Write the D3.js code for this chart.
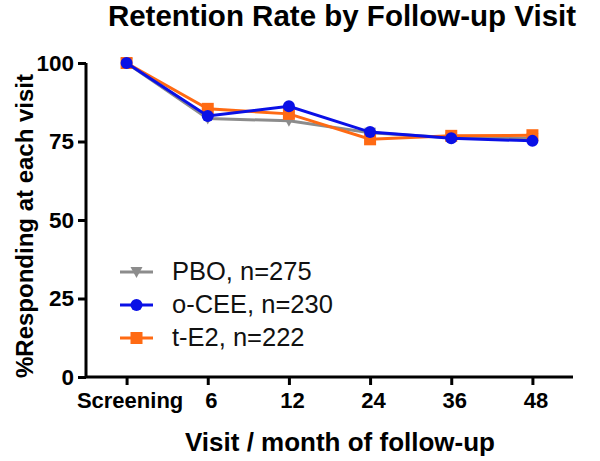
<!DOCTYPE html>
<html><head><meta charset="utf-8">
<script src="https://cdn.jsdelivr.net/npm/d3@7"></script>
<style>body{margin:0;background:#fff}svg{display:block}text{font-family:"Liberation Sans",Arial,sans-serif}</style>
</head><body><svg id="c" width="600" height="461"></svg>
<script>
const categories = ["Screening","6","12","24","36","48"];
const pbo  = [100, 82.3, 81.6, 77.8, 76.2, 76.0];
const ocee = [100, 83.1, 86.2, 78.0, 76.0, 75.2];
const te2  = [100, 85.4, 83.8, 75.7, 76.8, 77.0];
const yTicks = [0,25,50,75,100];
const seriesNames = ["PBO, n=275","o-CEE, n=230","t-E2, n=222"];

const svg = d3.select("#c");
const x = d3.scalePoint().domain(categories).range([86,573]).padding(0.5);
const y = d3.scaleLinear().domain([0,100]).range([377,63]);

svg.append("text").attr("x",342).attr("y",26).attr("text-anchor","middle")
  .attr("font-size",29.5).attr("font-weight","bold").text("Retention Rate by Follow-up Visit");

const ya = svg.append("g").attr("transform","translate(86,0)")
  .call(d3.axisLeft(y).tickValues(yTicks).tickSize(8).tickPadding(4));
const xa = svg.append("g").attr("transform","translate(0,377)")
  .call(d3.axisBottom(x).tickSize(8).tickPadding(7).tickSizeOuter(0));
[ya,xa].forEach(a=>{
  a.select(".domain").attr("stroke","#000").attr("stroke-width",3);
  a.selectAll(".tick line").attr("stroke","#000").attr("stroke-width",3);
  a.selectAll("text").attr("fill","#000").attr("font-weight","bold").attr("font-family","Liberation Sans, Arial, sans-serif");
});
ya.selectAll("text").attr("font-size",22.5);
xa.selectAll("text").attr("font-size",22).attr("dx",3);
xa.select(".domain").attr("d","M86,0H573");
ya.select(".domain").attr("d","M0,63V377");

svg.append("text").attr("x",340).attr("y",451).attr("text-anchor","middle")
  .attr("font-size",26).attr("font-weight","bold").text("Visit / month of follow-up");
svg.append("text").attr("transform","translate(33,226) rotate(-90)").attr("text-anchor","middle")
  .attr("font-size",24).attr("font-weight","bold").text("%Responding at each visit");

const series = [
  {name:seriesNames[0], vals:pbo,  color:"#8c8c8c", shape:"tri"},
  {name:seriesNames[2], vals:te2,  color:"#ff6a13", shape:"sq"},
  {name:seriesNames[1], vals:ocee, color:"#0a10e6", shape:"circ"}
];
function marker(g, shape, color, cx, cy){
  if(shape==="circ") g.append("circle").attr("cx",cx).attr("cy",cy).attr("r",6).attr("fill",color);
  else if(shape==="sq") g.append("rect").attr("x",cx-6).attr("y",cy-6).attr("width",12).attr("height",12).attr("fill",color);
  else g.append("path").attr("d",`M${cx-6},${cy-5}L${cx+6},${cy-5}L${cx},${cy+6}Z`).attr("fill",color);
}
const line = d3.line().x((d,i)=>x(categories[i])).y(d=>y(d));
series.forEach(s=>{
  const g = svg.append("g");
  g.append("path").datum(s.vals).attr("d",line).attr("fill","none").attr("stroke",s.color).attr("stroke-width",3);
  s.vals.forEach((v,i)=>marker(g,s.shape,s.color,x(categories[i]),y(v)));
});

const leg = [
  {name:seriesNames[0], color:"#8c8c8c", shape:"tri"},
  {name:seriesNames[1], color:"#0a10e6", shape:"circ"},
  {name:seriesNames[2], color:"#ff6a13", shape:"sq"}
];
leg.forEach((l,i)=>{
  const cy = 272 + i*33;
  const g = svg.append("g");
  g.append("line").attr("x1",120).attr("x2",153).attr("y1",cy).attr("y2",cy).attr("stroke",l.color).attr("stroke-width",3);
  marker(g,l.shape,l.color,136.5,cy);
  g.append("text").attr("x",172).attr("y",cy+8).attr("font-size",25.5).attr("fill","#111").text(l.name);
});
</script></body></html>
